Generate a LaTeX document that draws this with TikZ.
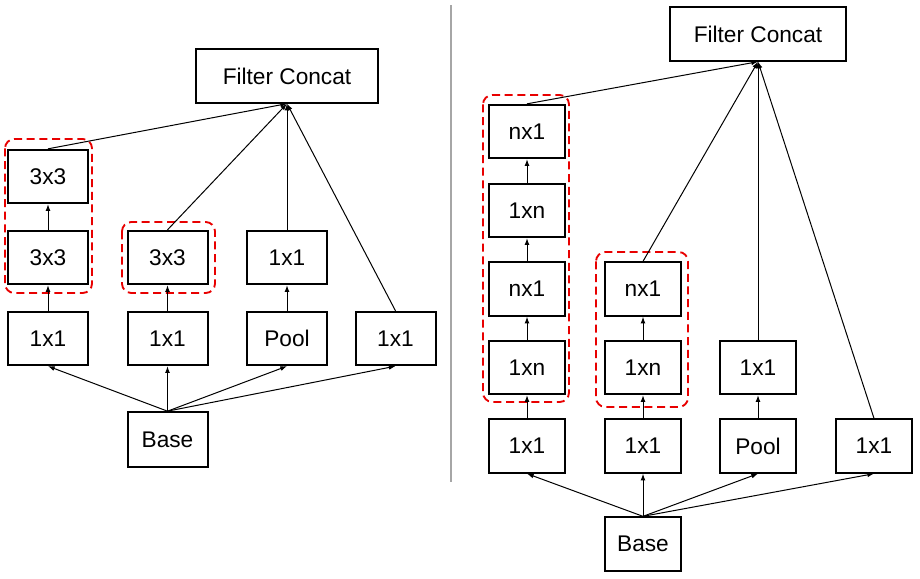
\documentclass[tikz,border=0pt]{standalone}
\usepackage{fontspec}
\setmainfont{Liberation Sans}
\usetikzlibrary{arrows.meta}
\begin{document}
\begin{tikzpicture}[x=0.75pt,y=-0.75pt,
  box/.style={draw=black,line width=1.5pt,fill=white,inner sep=0pt,
    minimum width=60pt,minimum height=40pt,font=\fontsize{17}{20}\selectfont},
  rbox/.style={box,minimum width=57pt},
  wide/.style={box,minimum width=136.5pt},
  conn/.style={draw=black,line width=0.75pt,-{Latex[length=5pt,width=3.6pt]}},
  group/.style={draw={rgb,255:red,232;green,0;blue,0},line width=1.4pt,
    dash pattern=on 6pt off 3.5pt,rounded corners=7pt},
  divider/.style={draw=black!35,line width=1.2pt}]
\useasboundingbox[fill=white] (0,0) rectangle (920,578);

% ---- left module: factorised 5x5 as two stacked 3x3 ----
\node[wide] (fcL) at (287,76) {Filter Concat};
\node[box] (a1) at (48,176.5) {3x3};
\node[box] (a2) at (48,257.5) {3x3};
\node[box] (b2) at (167.5,257.5) {3x3};
\node[box] (c2) at (287,257.5) {1x1};
\node[box] (a3) at (48,338.5) {1x1};
\node[box] (b3) at (167.5,338.5) {1x1};
\node[box] (c3) at (287,338.5) {Pool};
\node[box] (d3) at (395.5,338.5) {1x1};
\node[box,minimum height=41pt] (baseL) at (167.5,439.5) {Base};

\draw[group] (5,139) rectangle (92,293);
\draw[group] (122,222) rectangle (215,293);

\draw[conn] (baseL.north) -- (a3.south);
\draw[conn] (baseL.north) -- (b3.south);
\draw[conn] (baseL.north) -- (c3.south);
\draw[conn] (baseL.north) -- (d3.south);
\draw[conn] (a3) -- (a2);
\draw[conn] (a2) -- (a1);
\draw[conn] (b3) -- (b2);
\draw[conn] (c3) -- (c2);
\draw[conn] (a1.north) -- (fcL.south);
\draw[conn] (b2.north) -- (fcL.south);
\draw[conn] (c2.north) -- (fcL.south);
\draw[conn] (d3.north) -- (fcL.south);

% ---- separator ----
\draw[divider] (451,5) -- (451,482);

% ---- right module: asymmetric 1xn / nx1 factorisation ----
\node[box,minimum width=132pt] (fcR) at (758,34) {Filter Concat};
\node[rbox] (p1) at (527,131.5) {nx1};
\node[rbox] (p2) at (527,210.5) {1xn};
\node[rbox] (p3) at (527,289) {nx1};
\node[rbox] (p4) at (527,367.5) {1xn};
\node[rbox] (p5) at (527,446) {1x1};
\node[rbox] (q1) at (643,289) {nx1};
\node[rbox] (q2) at (643,367.5) {1xn};
\node[rbox] (q3) at (643,446) {1x1};
\node[rbox] (r1) at (758,367.5) {1x1};
\node[rbox] (r2) at (758,446) {Pool};
\node[rbox] (s1) at (874,446) {1x1};
\node[rbox] (baseR) at (643,544) {Base};

\draw[group] (483,95) rectangle (569,402);
\draw[group] (596,252) rectangle (688,407);

\draw[conn] (baseR.north) -- (p5.south);
\draw[conn] (baseR.north) -- (q3.south);
\draw[conn] (baseR.north) -- (r2.south);
\draw[conn] (baseR.north) -- (s1.south);
\draw[conn] (p5) -- (p4);
\draw[conn] (p4) -- (p3);
\draw[conn] (p3) -- (p2);
\draw[conn] (p2) -- (p1);
\draw[conn] (q3) -- (q2);
\draw[conn] (q2) -- (q1);
\draw[conn] (r2) -- (r1);
\draw[conn] (p1.north) -- (fcR.south);
\draw[conn] (q1.north) -- (fcR.south);
\draw[conn] (r1.north) -- (fcR.south);
\draw[conn] (s1.north) -- (fcR.south);
\end{tikzpicture}
\end{document}
